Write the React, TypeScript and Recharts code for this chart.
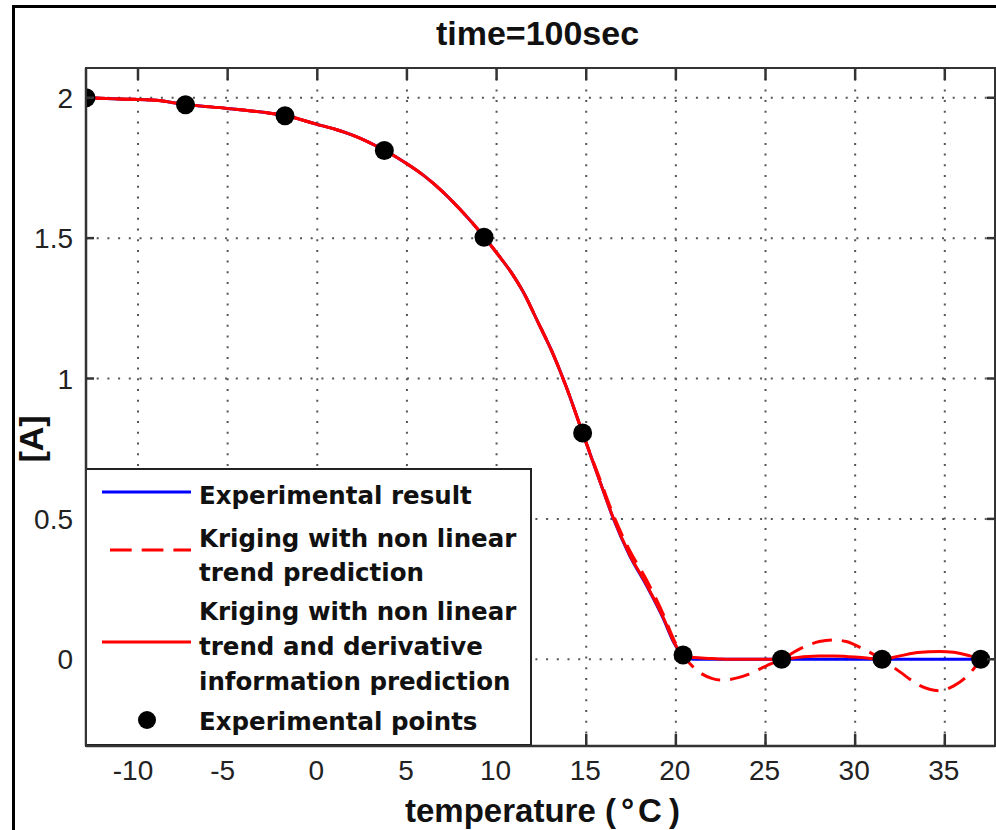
import React from 'react';
import { ComposedChart, Line, Scatter, XAxis, YAxis, CartesianGrid, Legend } from 'recharts';

// ---- data ----
const xTicks = [-10, -5, 0, 5, 10, 15, 20, 25, 30, 35];
const yTicks = [0, 0.5, 1, 1.5, 2];
const yTickLabels: Record<number, string> = { 0: '0', 0.5: '0.5', 1: '1', 1.5: '1.5', 2: '2' };

const curveTemp = [
  -12.9, -11, -9, -7.35, -5, -3, -1.8, 0, 1, 2, 3.74, 5, 6, 7, 8, 9.3, 10, 10.9, 11.6,
  12.2, 13.2, 13.9, 14.8, 15.8, 16.5, 17.4, 18.4, 19.3, 19.9, 20.4, 21, 22, 22.5, 23, 24, 25, 25.9,
  27, 28, 28.8, 29.5, 30.5, 31.5, 32.5, 33.5, 34.7, 35.5, 36.4, 37.0,
];
const experimentalResult = [
  2.0, 1.996, 1.991, 1.976, 1.962, 1.948, 1.937, 1.905, 1.888, 1.866, 1.813, 1.765, 1.72, 1.665, 1.6, 1.505, 1.448, 1.37, 1.295,
  1.215, 1.08, 0.968, 0.806, 0.627, 0.503, 0.372, 0.258, 0.145, 0.058, 0.015, 0, 0, 0, 0, 0, 0, 0,
  0, 0, 0, 0, 0, 0, 0, 0, 0, 0, 0, 0,
];
const krigingTrend = [
  2.0, 1.996, 1.991, 1.976, 1.962, 1.948, 1.937, 1.905, 1.888, 1.866, 1.813, 1.765, 1.72, 1.665, 1.6, 1.505, 1.448, 1.37, 1.295,
  1.215, 1.08, 0.968, 0.806, 0.635, 0.516, 0.39, 0.278, 0.16, 0.068, 0.015, -0.03, -0.068, -0.074, -0.072, -0.055, -0.025, 0,
  0.04, 0.063, 0.069, 0.063, 0.035, 0, -0.045, -0.09, -0.112, -0.095, -0.05, 0,
];
const krigingDerivative = [
  2.0, 1.996, 1.991, 1.976, 1.962, 1.948, 1.937, 1.905, 1.888, 1.866, 1.813, 1.765, 1.72, 1.665, 1.6, 1.505, 1.448, 1.37, 1.295,
  1.215, 1.08, 0.968, 0.806, 0.627, 0.505, 0.375, 0.261, 0.148, 0.06, 0.015, 0.006, 0.003, 0.001, 0, 0, 0, 0,
  0.008, 0.012, 0.012, 0.01, 0.005, 0, 0.012, 0.024, 0.028, 0.025, 0.012, 0,
];

const pointTemp = [-12.9, -7.35, -1.8, 3.74, 9.3, 14.8, 20.4, 25.9, 31.5, 37.0];
const pointValue = [2.0, 1.975, 1.936, 1.812, 1.503, 0.806, 0.015, 0, 0, 0];

const curveRows = curveTemp.map((t, i) => ({
  t,
  exp: experimentalResult[i],
  trend: krigingTrend[i],
  deriv: krigingDerivative[i],
}));
const pointRows = pointTemp.map((t, i) => ({ t, v: pointValue[i] }));

const X_DOMAIN: [number, number] = [-12.9, 37.8];
const Y_DOMAIN: [number, number] = [-0.309, 2.106];

const AXIS_COLOR = '#333';
const TICK_FONT = '"Liberation Sans", Arial, sans-serif';
const PLOT_TOP = 68;
const PLOT_LEFT = 86;
const PLOT_RIGHT = 995;
const PLOT_BOTTOM = 746;

function XTick(props: any) {
  const { x, y, payload } = props;
  const v = payload.value;
  const dx = v < 0 ? -5 : -1;
  return (
    <g>
      <line x1={x} y1={y} x2={x} y2={y - 12} stroke={AXIS_COLOR} strokeWidth={2.5} />
      <line x1={x} y1={PLOT_TOP} x2={x} y2={PLOT_TOP + 12} stroke={AXIS_COLOR} strokeWidth={2.5} />
      <text x={x + dx} y={y + 34} textAnchor="middle" fontFamily={TICK_FONT} fontSize={28} fill="#222">
        {String(v)}
      </text>
    </g>
  );
}

function YTick(props: any) {
  const { x, y, payload } = props;
  const v = payload.value;
  return (
    <g>
      <line x1={x} y1={y} x2={x + 8} y2={y} stroke={AXIS_COLOR} strokeWidth={2.5} />
      <line x1={PLOT_RIGHT} y1={y} x2={PLOT_RIGHT - 8} y2={y} stroke={AXIS_COLOR} strokeWidth={2.5} />
      <text x={x - 13} y={y} dy="0.36em" textAnchor="end" fontFamily={TICK_FONT} fontSize={28} fill="#222">
        {yTickLabels[v] ?? String(v)}
      </text>
    </g>
  );
}

function XAxisLabel(props: any) {
  const vb = props.viewBox || { x: 86, y: 746, width: 909 };
  return (
    <g>
      <text x={vb.x + 319} y={vb.y + 76} textAnchor="start" fontFamily={TICK_FONT} fontWeight="bold" fontSize={33} fill="#111">
        temperature (<tspan dx={5}>°</tspan><tspan dx={4}>C</tspan><tspan dx={7}>)</tspan>
      </text>
      <text x={vb.x + vb.width / 2 - 3} y={PLOT_TOP - 23} textAnchor="middle" fontFamily={TICK_FONT} fontWeight="bold" fontSize={34} fill="#111">
        time=100sec
      </text>
    </g>
  );
}

function YAxisLabel() {
  const cx = 43;
  const cy = 439;
  return (
    <text x={cx} y={cy} transform={`rotate(-90, ${cx}, ${cy})`} textAnchor="middle" fontFamily={TICK_FONT} fontWeight="bold" fontSize={34} fill="#111">
      [A]
    </text>
  );
}

const LEGEND_FONT = '"DejaVu Sans", Verdana, sans-serif';

function LegendBox() {
  const textProps = { fontFamily: LEGEND_FONT, fontWeight: 'bold' as const, fontSize: 24.5, fill: '#111' };
  return (
    <div
      style={{
        width: 447,
        height: 278,
        boxSizing: 'border-box',
        border: '2px solid #222',
        background: '#fff',
        position: 'relative',
      }}
    >
      <svg width={443} height={274} style={{ position: 'absolute', left: 0, top: 0 }}>
        <g transform="translate(-2,-2)">
          <line x1={17} y1={24} x2={106} y2={24} stroke="#0000ff" strokeWidth={3} />
          <text x={114} y={36} {...textProps}>Experimental result</text>

          <line x1={25} y1={82} x2={106} y2={82} stroke="#ff0000" strokeWidth={3} strokeDasharray="21.7 10" />
          <text x={114} y={79} {...textProps}>Kriging with non linear</text>
          <text x={114} y={113} {...textProps}>trend prediction</text>

          <line x1={17} y1={174} x2={106} y2={174} stroke="#ff0000" strokeWidth={3} />
          <text x={114} y={152} {...textProps}>Kriging with non linear</text>
          <text x={114} y={187} {...textProps}>trend and derivative</text>
          <text x={114} y={222} {...textProps}>information prediction</text>

          <circle cx={62} cy={252} r={9} fill="#000" />
          <text x={114} y={262} {...textProps}>Experimental points</text>
        </g>
      </svg>
    </div>
  );
}

function Dot(props: any) {
  const { cx, cy } = props;
  if (cx == null || cy == null) return null;
  return <circle cx={cx} cy={cy} r={9.5} fill="#000" />;
}

export default function App() {
  return (
    <div style={{ position: 'absolute', left: 0, top: 0, width: 996, height: 830, background: '#fff', overflow: 'hidden' }}>
      <div
        style={{
          position: 'absolute',
          left: 12,
          top: 5,
          width: 1000,
          height: 900,
          borderLeft: '3px solid #000',
          borderTop: '3px solid #000',
        }}
      />
      <div style={{ position: 'absolute', left: 0, top: 0 }}>
        <ComposedChart
          width={996}
          height={830}
          data={curveRows}
          margin={{ top: PLOT_TOP, right: 996 - PLOT_RIGHT, bottom: 0, left: 0 }}
        >
          <CartesianGrid stroke="#555" strokeWidth={2} strokeDasharray="2 8.7" />
          <XAxis
            dataKey="t"
            type="number"
            domain={X_DOMAIN}
            ticks={xTicks}
            interval={0}
            allowDataOverflow
            height={830 - PLOT_BOTTOM}
            tickSize={0}
            tickMargin={0}
            tickLine={false}
            axisLine={{ stroke: AXIS_COLOR, strokeWidth: 2.5 }}
            tick={<XTick />}
            label={<XAxisLabel />}
          />
          <YAxis
            type="number"
            domain={Y_DOMAIN}
            ticks={yTicks}
            interval={0}
            allowDataOverflow
            width={PLOT_LEFT}
            tickSize={0}
            tickMargin={0}
            tickLine={false}
            axisLine={{ stroke: AXIS_COLOR, strokeWidth: 2.5 }}
            tick={<YTick />}
            label={<YAxisLabel />}
          />
          <Line
            dataKey="exp"
            type="monotone"
            stroke="#0000ff"
            strokeWidth={3}
            dot={false}
            activeDot={false}
            isAnimationActive={false}
          />
          <Line
            dataKey="trend"
            type="monotone"
            stroke="#ff0000"
            strokeWidth={3}
            strokeDasharray="20 10"
            dot={false}
            activeDot={false}
            isAnimationActive={false}
          />
          <Line
            dataKey="deriv"
            type="monotone"
            stroke="#ff0000"
            strokeWidth={3}
            dot={false}
            activeDot={false}
            isAnimationActive={false}
          />
          <Scatter data={pointRows} dataKey="v" shape={<Dot />} isAnimationActive={false} />
          <Legend
            layout="horizontal"
            verticalAlign="middle"
            align="center"
            width={447}
            height={278}
            wrapperStyle={{ left: 85, top: 468, width: 447, height: 278 }}
            content={() => <LegendBox />}
          />
        </ComposedChart>
      </div>
      {/* solid axes box drawn over the plot edges */}
      <div
        style={{
          position: 'absolute',
          left: PLOT_LEFT - 1.25,
          top: PLOT_TOP - 1.25,
          width: PLOT_RIGHT - PLOT_LEFT + 2.5,
          height: PLOT_BOTTOM - PLOT_TOP + 2.5,
          boxSizing: 'border-box',
          border: `2.5px solid ${AXIS_COLOR}`,
          pointerEvents: 'none',
        }}
      />
    </div>
  );
}
